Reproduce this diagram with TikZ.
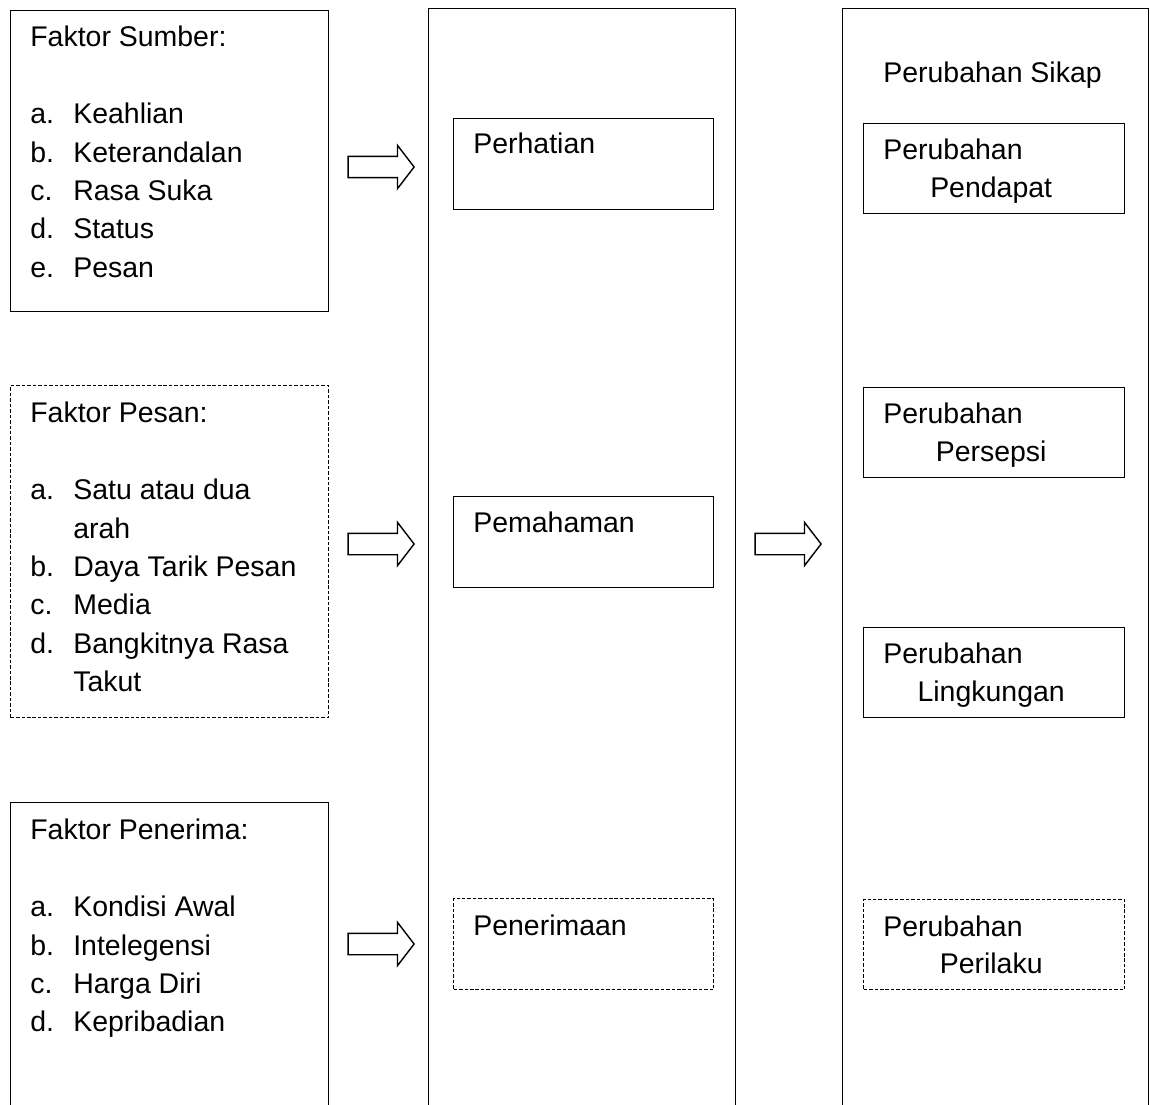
\documentclass[tikz,border=0pt]{standalone}
\usepackage{fontspec}
\setmainfont{Liberation Sans}
\usetikzlibrary{positioning,shapes.arrows}

\newcommand{\txtsize}{\fontsize{16.2}{21.85}\selectfont}

\begin{document}
\begin{tikzpicture}[x=0.02cm, y=-0.02cm,
    factor/.style={rectangle, draw=black, line width=0.8pt, anchor=north west,
                   inner sep=0pt, minimum width=6.36cm},
    column/.style={rectangle, draw=black, line width=0.8pt, anchor=north west,
                   inner sep=0pt, minimum height=22.4cm},
    stage/.style={rectangle, draw=black, line width=0.8pt, anchor=north west,
                  inner sep=0pt, minimum width=5.2cm, minimum height=1.82cm},
    result/.style={stage, minimum width=5.22cm, minimum height=1.8cm},
    dashedbox/.style={dash pattern=on 2pt off 1.1pt},
    txt/.style={anchor=base west, inner sep=0pt, font=\txtsize},
    blockarrow/.style={single arrow, draw=black, line width=0.8pt,
                       inner xsep=0pt, inner ysep=0.2cm,
                       minimum width=0.84cm, minimum height=1.32cm,
                       single arrow head extend=0.22cm, single arrow tip angle=105}
]
    \useasboundingbox (0,0) rectangle (1150,1105);
    \clip (0,0) rectangle (1150,1105);

    % left: factors
    \node[factor, minimum height=6.02cm] (sumber) at (10,10) {};
    \node[factor, dashedbox, minimum height=6.64cm] (pesan) at (10,385) {};
    \node[factor, minimum height=6.4cm] (penerima) at (10,802) {};

    \node[txt, xshift=0.4cm, yshift=-0.74cm] (sumbertxt) at (sumber.north west)
        {\begin{tabular}[t]{@{}p{0.86cm}@{}l@{}}
            \multicolumn{2}{@{}l@{}}{Faktor Sumber:}\\ \\
            a. & Keahlian\\
            b. & Keterandalan\\
            c. & Rasa Suka\\
            d. & Status\\
            e. & Pesan
        \end{tabular}};
    \node[txt, xshift=0.4cm, yshift=-0.76cm] (pesantxt) at (pesan.north west)
        {\begin{tabular}[t]{@{}p{0.86cm}@{}l@{}}
            \multicolumn{2}{@{}l@{}}{Faktor Pesan:}\\ \\
            a. & Satu atau dua\\
               & arah\\
            b. & Daya Tarik Pesan\\
            c. & Media\\
            d. & Bangkitnya Rasa\\
               & Takut
        \end{tabular}};
    \node[txt, xshift=0.4cm, yshift=-0.76cm] (penerimatxt) at (penerima.north west)
        {\begin{tabular}[t]{@{}p{0.86cm}@{}l@{}}
            \multicolumn{2}{@{}l@{}}{Faktor Penerima:}\\ \\
            a. & Kondisi Awal\\
            b. & Intelegensi\\
            c. & Harga Diri\\
            d. & Kepribadian
        \end{tabular}};

    % middle: stages
    \node[column, minimum width=6.14cm] (tahap) at (428,8) {};
    \node[stage] (perhatian) at (453,118) {};
    \node[stage] (pemahaman) at (453,496) {};
    \node[stage, dashedbox] (penerimaan) at (453,898) {};

    \node[txt, xshift=0.4cm, yshift=-0.72cm] (perhatiantxt) at (perhatian.north west) {Perhatian};
    \node[txt, xshift=0.4cm, yshift=-0.74cm] (pemahamantxt) at (pemahaman.north west) {Pemahaman};
    \node[txt, xshift=0.4cm, yshift=-0.74cm] (penerimaantxt) at (penerimaan.north west) {Penerimaan};

    % right: attitude change
    \node[column, minimum width=6.12cm] (sikap) at (842,8) {};
    \node[txt] (sikaptxt) at (883,83) {Perubahan Sikap};
    \node[result] (pendapat) at (863,123) {};
    \node[result] (persepsi) at (863,387) {};
    \node[result] (lingkungan) at (863,627) {};
    \node[result, dashedbox] (perilaku) at (863,899) {};

    \node[txt, xshift=0.4cm, yshift=-0.74cm] (pendapat1) at (pendapat.north west) {Perubahan};
    \node[txt, anchor=base, xshift=-0.06cm, yshift=-1.5cm] (pendapat2) at (pendapat.north) {Pendapat};
    \node[txt, xshift=0.4cm, yshift=-0.74cm] (persepsi1) at (persepsi.north west) {Perubahan};
    \node[txt, anchor=base, xshift=-0.06cm, yshift=-1.5cm] (persepsi2) at (persepsi.north) {Persepsi};
    \node[txt, xshift=0.4cm, yshift=-0.74cm] (lingkungan1) at (lingkungan.north west) {Perubahan};
    \node[txt, anchor=base, xshift=-0.06cm, yshift=-1.5cm] (lingkungan2) at (lingkungan.north) {Lingkungan};
    \node[txt, xshift=0.4cm, yshift=-0.74cm] (perilaku1) at (perilaku.north west) {Perubahan};
    \node[txt, anchor=base, xshift=-0.06cm, yshift=-1.5cm] (perilaku2) at (perilaku.north) {Perilaku};

    % block arrows
    \node[blockarrow] (arrow1) at (377,167) {};
    \node[blockarrow] (arrow2) at (377,544) {};
    \node[blockarrow] (arrow3) at (377,944) {};
    \node[blockarrow] (arrow4) at (784,544) {};
\end{tikzpicture}
\end{document}
